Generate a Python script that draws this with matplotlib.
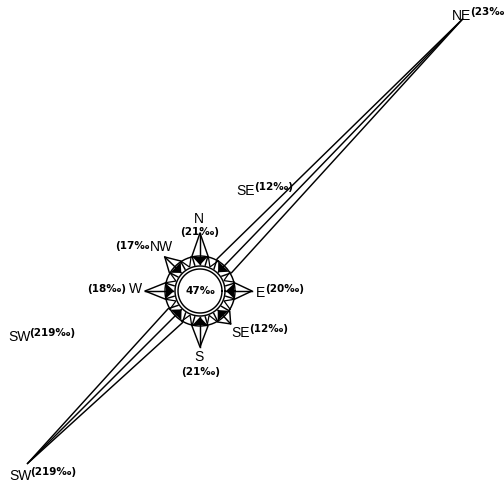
import numpy as np
import matplotlib.pyplot as plt

plt.rcParams['font.family'] = ['Liberation Sans', 'DejaVu Sans']

# wind rose, frequencies in per mille
directions = ['N', 'NE', 'E', 'SE', 'S', 'SW', 'W', 'NW']
bearings = [0, 44, 90, 137, 180, 225, 270, 314]      # deg clockwise from north
values = ['21', '23', '20', '12', '21', '219', '18', '17']
reach = [58, 378, 52, 45, 56, 244, 55, 49]           # petal length as drawn
calm = '47'

C = np.array([200.0, 291.0])   # rose centre (pixel space, y down)
R_IN, R_RING, R_OUT = 22, 25, 35


def unit(b):
    b = np.radians(b)
    return np.array([np.sin(b), -np.cos(b)]), np.array([np.cos(b), np.sin(b)])


def petal(ax, b, L, half):
    u, n = unit(b)
    tip = C + L * u
    pts = [C + R_RING * u + 5 * n, C + R_OUT * u + half * n, tip,
           C + R_OUT * u - half * n, C + R_RING * u - 5 * n]
    pts = np.array(pts)
    ax.plot(pts[:, 0], pts[:, 1], color='black', lw=1.05)
    mid = np.array([C + R_RING * u, tip])
    ax.plot(mid[:, 0], mid[:, 1], color='black', lw=1.05)
    tri = np.array([C + (R_OUT - 1) * u + 7.5 * n, C + (R_OUT - 1) * u - 7.5 * n,
                    C + (R_RING + 1) * u])
    ax.fill(tri[:, 0], tri[:, 1], color='black', lw=0)


def small_tri(ax, b):
    u, n = unit(b)
    tri = np.array([C + R_OUT * u + 5.5 * n, C + (R_RING + 1) * u,
                    C + R_OUT * u - 5.5 * n])
    ax.plot(tri[:, 0], tri[:, 1], color='black', lw=0.9)


fig = plt.figure(figsize=(5.04, 4.83), dpi=100)
ax = fig.add_axes([0, 0, 1, 1])
ax.set_xlim(0, 504)
ax.set_ylim(483, 0)
ax.set_aspect('equal')
ax.axis('off')

for b, L in zip(bearings, reach):
    petal(ax, b, L, 10 if L > 100 else 8)
for b in bearings:
    small_tri(ax, b + 22.5)

t = np.linspace(0, 2 * np.pi, 200)
for r, c in [(R_OUT, 'none'), (R_RING, 'white'), (R_IN, 'white')]:
    if c == 'white':
        ax.fill(C[0] + r * np.cos(t), C[1] + r * np.sin(t), color='white', zorder=3)
    ax.plot(C[0] + r * np.cos(t), C[1] + r * np.sin(t), color='black', lw=1.05, zorder=4)

vfont = ['DejaVu Sans']
ax.text(C[0], C[1], calm + '‰', ha='center', va='center', fontsize=7.5,
        fontweight='bold', family=vfont, zorder=5)

val = dict(zip(directions, values))
big = dict(fontsize=10)
small = dict(fontsize=7.5, fontweight='bold', family=vfont)

# N and S: name with value underneath
ax.text(199, 219, 'N', ha='center', va='center', **big)
ax.text(200, 232, '(%s‰)' % val['N'], ha='center', va='center', **small)
ax.text(199, 357, 'S', ha='center', va='center', **big)
ax.text(201, 372, '(%s‰)' % val['S'], ha='center', va='center', **small)

# value before the name
ax.text(142, 289, 'W', ha='right', va='center', **big)
ax.text(126, 289, '(%s‰)' % val['W'], ha='right', va='center', **small)
ax.text(150, 247, 'NW', ha='left', va='center', **big)
ax.text(149, 246, '(%s‰' % val['NW'], ha='right', va='center', **small)

# value raised after the name
for name, x, y in [('E', 256, 293), ('SE', 231, 333), ('SE', 236, 191),
                   ('SW', 8, 337), ('SW', 9, 476), ('NE', 452, 16)]:
    ax.text(x, y, name, ha='left', va='center', **big)
    w = {'E': 9, 'SW': 21}.get(name, 18)
    tail = '' if name == 'NE' else ')'
    ax.text(x + w, y - 4, '(%s‰%s' % (val[name], tail), ha='left', va='center',
            **small)

fig.savefig('out.png', dpi=100)
